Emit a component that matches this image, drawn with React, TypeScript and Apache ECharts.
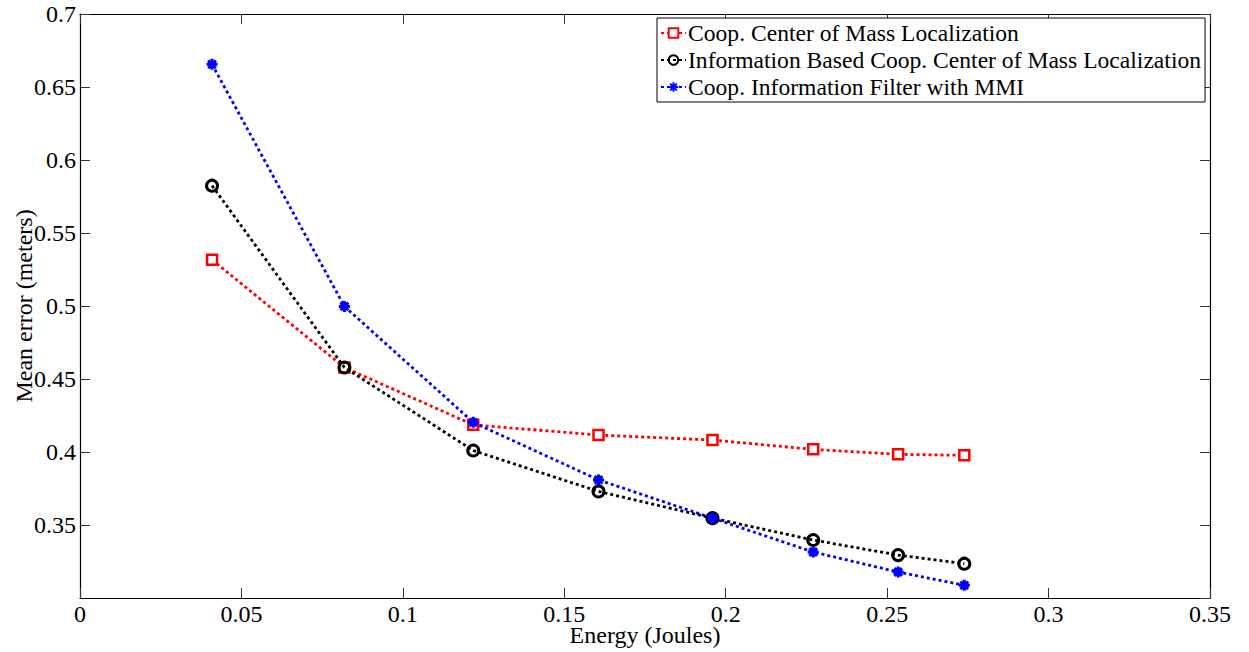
import React, { useEffect, useRef } from "react";
import * as echarts from "echarts";

const energy = [0.0409, 0.0819, 0.1218, 0.1606, 0.1959, 0.2271, 0.2534, 0.2739];
const coopCoM = [0.5316, 0.4579, 0.4186, 0.4116, 0.4082, 0.4018, 0.3984, 0.3977];
const infoCoM = [0.5824, 0.4579, 0.401, 0.373, 0.3547, 0.3397, 0.3294, 0.3235];
const infoFilter = [0.6655, 0.4997, 0.4203, 0.3809, 0.3547, 0.3315, 0.3178, 0.3087];
const seriesNames = [
  "Coop. Center of Mass Localization",
  "Information Based Coop. Center of Mass Localization",
  "Coop. Information Filter with MMI",
];
const xTitle = "Energy (Joules)";
const yTitle = "Mean error (meters)";

const FONT = "'Liberation Serif', 'Times New Roman', serif";
const FS = 24;
const asterisk = "path://M5 0L5 10M0 5L10 5M1.5 1.5L8.5 8.5M1.5 8.5L8.5 1.5";

export default function App() {
  const ref = useRef<HTMLDivElement>(null);
  useEffect(() => {
    if (!ref.current) return;
    const chart = echarts.init(ref.current, undefined, { renderer: "svg" });
    const pts = (ys: number[]) => energy.map((x, i) => [x, ys[i]]);
    const axisCommon = {
      axisLine: { show: true, onZero: false, lineStyle: { color: "#000", width: 1.2 } },
      axisTick: { show: true, inside: true, length: 10, lineStyle: { color: "#333", width: 1 } },
      splitLine: { show: false },
    };
    chart.setOption({
      animation: false,
      backgroundColor: "#fff",
      grid: { left: 80, right: 39, top: 14, bottom: 44, containLabel: false },
      legend: {
        orient: "vertical",
        left: 657,
        top: 18,
        backgroundColor: "#fff",
        borderColor: "#000",
        borderWidth: 1,
        padding: [3, 4, 3, 3],
        itemGap: 3,
        itemWidth: 25,
        itemHeight: 12,
        textStyle: { fontFamily: FONT, fontSize: 23.6, color: "#000", padding: [0, 0, 0, -3] },
        data: seriesNames,
      },
      xAxis: [
        {
          type: "value",
          position: "bottom",
          min: 0,
          max: 0.35,
          interval: 0.05,
          ...axisCommon,
          name: xTitle,
          nameLocation: "middle",
          nameGap: 28,
          nameMoveOverlap: false,
          nameTextStyle: { fontFamily: FONT, fontSize: FS, color: "#000", lineHeight: 18 },
          axisLabel: { fontFamily: FONT, fontSize: FS, color: "#000", margin: 7, lineHeight: 18 },
        },
        {
          type: "value",
          position: "top",
          min: 0,
          max: 0.35,
          interval: 0.05,
          ...axisCommon,
          axisLabel: { show: false },
        },
      ],
      yAxis: [
        {
          type: "value",
          position: "left",
          min: 0.3,
          max: 0.7,
          interval: 0.05,
          ...axisCommon,
          name: yTitle,
          nameLocation: "middle",
          nameGap: 44,
          nameMoveOverlap: false,
          nameTextStyle: { fontFamily: FONT, fontSize: FS, color: "#000" },
          axisLabel: { fontFamily: FONT, fontSize: FS, color: "#000", margin: 4, showMinLabel: false },
        },
        {
          type: "value",
          position: "right",
          min: 0.3,
          max: 0.7,
          interval: 0.05,
          ...axisCommon,
          axisLabel: { show: false },
        },
      ],
      series: [
        {
          name: seriesNames[0],
          type: "line",
          data: pts(coopCoM),
          symbol: "rect",
          symbolSize: 10,
          showAllSymbol: true,
          lineStyle: { color: "#ff0000", width: 2.8, type: [3, 3] },
          itemStyle: { color: "#fff", borderColor: "#ff0000", borderWidth: 2.5 },
          z: 2,
        },
        {
          name: seriesNames[1],
          type: "line",
          data: pts(infoCoM),
          symbol: "circle",
          symbolSize: 11,
          showAllSymbol: true,
          lineStyle: { color: "#000", width: 2.8, type: [3, 3] },
          itemStyle: { color: "rgba(255,255,255,0)", borderColor: "#000", borderWidth: 3 },
          z: 3,
        },
        {
          name: seriesNames[2],
          type: "line",
          data: pts(infoFilter),
          symbol: asterisk,
          symbolSize: 11,
          showAllSymbol: true,
          lineStyle: { color: "#0000ff", width: 2.8, type: [3, 3] },
          itemStyle: { color: "#0000ff", borderColor: "#0000ff", borderWidth: 3 },
          z: 4,
        },
      ],
    });
    return () => chart.dispose();
  }, []);
  return <div ref={ref} style={{ width: 1249, height: 652, position: "absolute", left: 0, top: 0 }} />;
}
